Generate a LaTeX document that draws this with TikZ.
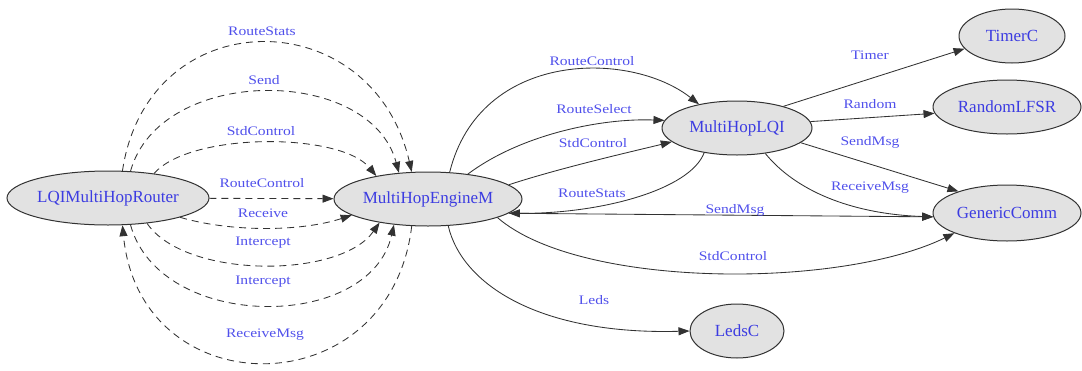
\documentclass[tikz,border=0pt]{standalone}
\usepackage{fontspec}
\setmainfont{Liberation Serif}
\newfontfamily\lblfont[FakeStretch=1.2]{Liberation Serif}
\usetikzlibrary{shapes.geometric,arrows.meta}
\definecolor{txtblue}{RGB}{60,60,225}
\definecolor{lblblue}{RGB}{80,80,235}
\definecolor{nodefill}{RGB}{226,226,226}
\definecolor{edgecol}{RGB}{50,50,50}
\tikzset{
  comp/.style={ellipse, draw=edgecol, line width=1pt, fill=nodefill, inner sep=0pt,
    text=txtblue, font=\fontsize{17}{19}\selectfont},
  lbl/.style={text=lblblue, font=\lblfont\fontsize{13}{15}\selectfont, inner sep=0pt},
  sedge/.style={draw=edgecol, line width=0.85pt, -{Triangle[length=11pt,width=8pt]}},
  dedge/.style={sedge, dash pattern=on 7pt off 5pt}
}
\begin{document}
\begin{tikzpicture}[x=1pt,y=-1pt]
\useasboundingbox (0,0) rectangle (1082,370);
% nodes
\node[comp, minimum width=202pt, minimum height=54pt] (R) at (108,198) {LQIMultiHopRouter};
\node[comp, minimum width=188pt, minimum height=54pt] (E) at (428,199) {MultiHopEngineM};
\node[comp, minimum width=150pt, minimum height=54pt] (L) at (737,128) {MultiHopLQI};
\node[comp, minimum width=106pt, minimum height=54pt] (T) at (1012,36) {TimerC};
\node[comp, minimum width=148pt, minimum height=54pt] (F) at (1007,107) {RandomLFSR};
\node[comp, minimum width=148pt, minimum height=56pt] (G) at (1007,213) {GenericComm};
\node[comp, minimum width=94pt, minimum height=54pt] (D) at (737,331) {LedsC};
% dashed edges LQIMultiHopRouter <-> MultiHopEngineM
\draw[dedge] (R.62) .. controls (148,0) and (372,0) .. (E.121);
\draw[dedge] (R.50) .. controls (160,65) and (370,65) .. (E.138);
\draw[dedge] (R.28) .. controls (190,132) and (340,132) .. (E.156);
\draw[dedge] (R) -- (E);
\draw[dedge] (R.-15) .. controls (230,232) and (300,232) .. (E.-168);
\draw[dedge] (R.-33) .. controls (185,279) and (340,279) .. (E.-154);
\draw[dedge] (R.-50) .. controls (160,332) and (370,332) .. (E.-143);
\draw[dedge] (E.-121) .. controls (390,408) and (140,408) .. (R.-62);
% solid edges
\draw[sedge] (E.51) .. controls (480,50) and (630,50) .. (L.148);
\draw[sedge] (E.32) .. controls (520,135) and (600,118) .. (L.174);
\draw[sedge] (E.10) .. controls (560,168) and (630,152) .. (L.-168);
\draw[sedge] (L.-143) .. controls (690,190) and (600,214) .. (E.-10);
\draw[sedge] (E.-10) -- (G.183);
\draw[sedge] (L.25) -- (T.195);
\draw[sedge] (L.5) -- (F.185);
\draw[sedge] (L.-13) -- (G.156);
\draw[sedge] (L.-42) .. controls (795,190) and (850,214) .. (G.183);
\draw[sedge] (E.-15) .. controls (580,289) and (840,289) .. (G.-159);
\draw[sedge] (E.-53) .. controls (462,285) and (540,335) .. (D.west);
% labels
\node[lbl] (a1) at (262,31) {RouteStats};
\node[lbl] (a2) at (264,80) {Send};
\node[lbl] (a3) at (261,131) {StdControl};
\node[lbl] (a4) at (262,183) {RouteControl};
\node[lbl] (a5) at (263,213) {Receive};
\node[lbl] (a6) at (263,243) {Intercept};
\node[lbl] (a7) at (263,282) {Intercept};
\node[lbl] (a8) at (265,335) {ReceiveMsg};
\node[lbl] (b1) at (592,61) {RouteControl};
\node[lbl] (b2) at (594,109) {RouteSelect};
\node[lbl] (b3) at (593,143) {StdControl};
\node[lbl] (b4) at (592,193) {RouteStats};
\node[lbl] (b5) at (594,300) {Leds};
\node[lbl] (b6) at (735,210) {SendMsg};
\node[lbl] (b7) at (733,256) {StdControl};
\node[lbl] (c1) at (870,55) {Timer};
\node[lbl] (c2) at (870,104) {Random};
\node[lbl] (c3) at (870,142) {SendMsg};
\node[lbl] (c4) at (870,188) {ReceiveMsg};
\end{tikzpicture}
\end{document}
